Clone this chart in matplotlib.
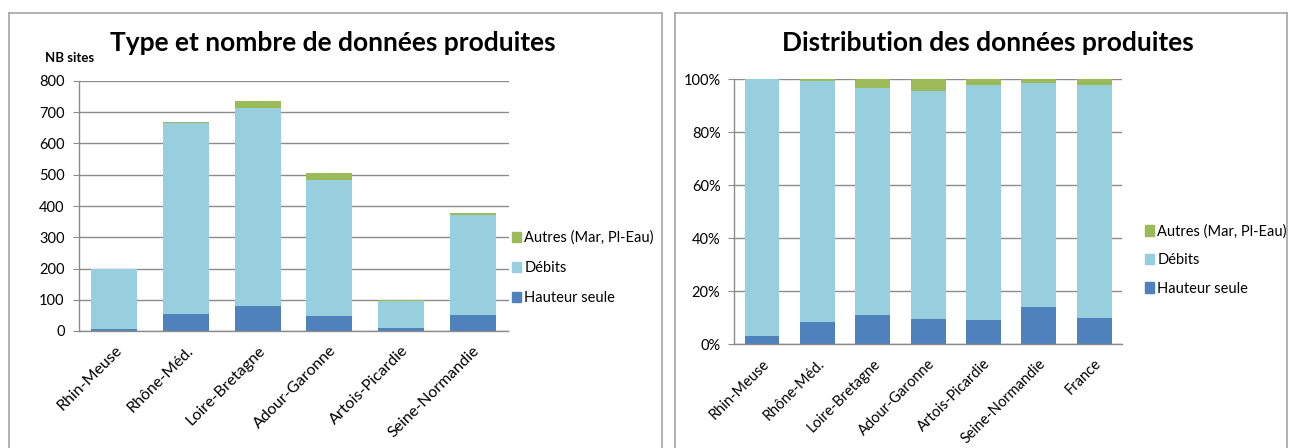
import matplotlib
matplotlib.use("Agg")
import matplotlib.pyplot as plt
import numpy as np
from matplotlib.patches import Patch
from matplotlib.lines import Line2D
from matplotlib.ticker import PercentFormatter

plt.rcParams['font.family'] = ['Lato', 'DejaVu Sans']

# ---------------- data ----------------
regions = ['Rhin-Meuse', 'Rhône-Méd.', 'Loire-Bretagne', 'Adour-Garonne',
           'Artois-Picardie', 'Seine-Normandie']
hauteur_seule = [6, 55, 81, 47, 9, 52]
debits = [194, 609, 633, 436, 88, 319]
autres = [0, 5, 23, 22, 2, 5]

pct_categories = regions + ['France']
france_hauteur = 250
france_debits = 2279
france_autres = 57

series_labels = ['Hauteur seule', 'Débits', 'Autres (Mar, Pl-Eau)']
left_yticks = [0, 100, 200, 300, 400, 500, 600, 700, 800]
right_yticks = [0, 0.2, 0.4, 0.6, 0.8, 1.0]

# ---------------- style ----------------
c_haut = '#4F81BD'
c_deb = '#98CFDF'
c_aut = '#9BBB59'
grid_c = '#8C8C8C'
W, H = 1293, 448

fig = plt.figure(figsize=(W / 100, H / 100), dpi=100)

def fx(px):
    return px / W

def fy(py):
    return 1 - py / H

# panel frames
frame_c = '#A6A6A6'
for (x0, x1) in [(8.5, 661.5), (675, 1287)]:
    fig.add_artist(Line2D([fx(x0), fx(x0)], [fy(13), fy(448)], color=frame_c, lw=1.2, transform=fig.transFigure))
    fig.add_artist(Line2D([fx(x1), fx(x1)], [fy(13), fy(448)], color=frame_c, lw=1.2, transform=fig.transFigure))
    fig.add_artist(Line2D([fx(x0), fx(x1)], [fy(13), fy(13)], color=frame_c, lw=1.2, transform=fig.transFigure))


def style_axes(ax, xsize):
    for s in ['top', 'right']:
        ax.spines[s].set_visible(False)
    for s in ['left', 'bottom']:
        ax.spines[s].set_color(grid_c)
        ax.spines[s].set_linewidth(1.0)
    ax.yaxis.grid(True, color=grid_c, lw=1.0)
    ax.set_axisbelow(True)
    ax.tick_params(axis='y', length=4, color=grid_c, labelsize=10.5, pad=6)
    ax.tick_params(axis='x', length=0, labelsize=xsize, pad=9)


# ---------------- left chart ----------------
axL = fig.add_axes([fx(78.6), fy(331), fx(508.5 - 78.6), (331 - 81) / H])
x = np.arange(len(regions))
w = 0.64
h = np.array(hauteur_seule)
d = np.array(debits)
a = np.array(autres)
axL.bar(x, h, w, color=c_haut, label=series_labels[0])
axL.bar(x, d, w, bottom=h, color=c_deb, label=series_labels[1])
axL.bar(x, a, w, bottom=h + d, color=c_aut, label=series_labels[2])
axL.set_xlim(-0.5, len(regions) - 0.5)
axL.set_ylim(0, 800)
axL.set_yticks(left_yticks)
axL.set_xticks(x)
axL.set_xticklabels(regions, rotation=45, ha='right', rotation_mode='anchor')
style_axes(axL, 11.5)

fig.text(fx(333), fy(43), 'Type et nombre de données produites', ha='center', va='center',
         fontsize=19, fontweight='bold')
fig.text(fx(45), fy(58), 'NB sites', ha='left', va='center', fontsize=9.5, fontweight='bold')

handles = [Patch(color=c_aut), Patch(color=c_deb), Patch(color=c_haut)]
labels_rev = series_labels[::-1]
axL.legend(handles, labels_rev, loc='center left', bbox_to_anchor=(fx(512), fy(268)),
           bbox_transform=fig.transFigure, frameon=False, fontsize=10.5,
           handlelength=0.6, handleheight=0.75, handletextpad=0.25, labelspacing=1.1,
           borderpad=0, borderaxespad=0)

# ---------------- right chart ----------------
axR = fig.add_axes([fx(734.3), fy(344), fx(1122 - 734.3), (344 - 79.3) / H])
xr = np.arange(len(pct_categories))
hr = np.array(hauteur_seule + [france_hauteur], dtype=float)
dr = np.array(debits + [france_debits], dtype=float)
ar = np.array(autres + [france_autres], dtype=float)
tot = hr + dr + ar
wr = 0.63
axR.bar(xr, hr / tot, wr, color=c_haut)
axR.bar(xr, dr / tot, wr, bottom=hr / tot, color=c_deb)
axR.bar(xr, ar / tot, wr, bottom=(hr + dr) / tot, color=c_aut)
axR.set_xlim(-0.5, len(pct_categories) - 0.5)
axR.set_ylim(0, 1)
axR.set_yticks(right_yticks)
axR.yaxis.set_major_formatter(PercentFormatter(xmax=1, decimals=0))
axR.set_xticks(xr)
axR.set_xticklabels(pct_categories, rotation=45, ha='right', rotation_mode='anchor')
style_axes(axR, 10.5)

fig.text(fx(988), fy(43), 'Distribution des données produites', ha='center', va='center',
         fontsize=19, fontweight='bold')
axR.legend(handles, labels_rev, loc='center left', bbox_to_anchor=(fx(1145), fy(260)),
           bbox_transform=fig.transFigure, frameon=False, fontsize=10.5,
           handlelength=0.6, handleheight=0.75, handletextpad=0.25, labelspacing=1.0,
           borderpad=0, borderaxespad=0)

fig.savefig('out.png', dpi=100)
